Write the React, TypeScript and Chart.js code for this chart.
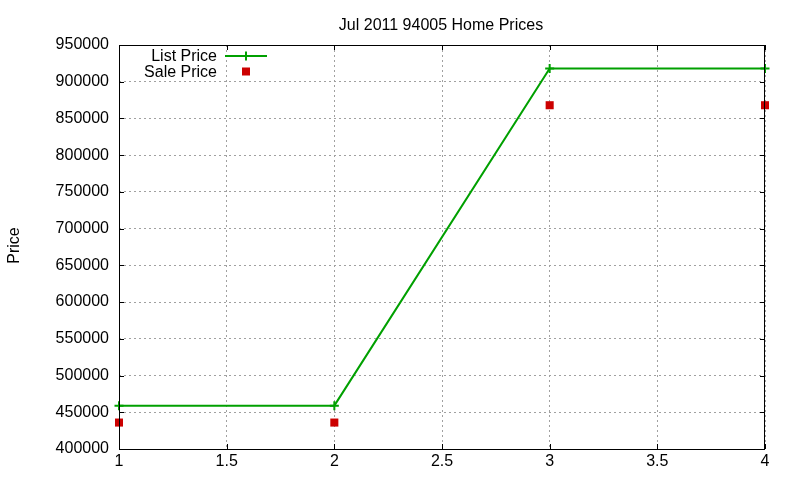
import React, { useEffect, useRef } from 'react';
import { Chart, registerables, type Plugin } from 'chart.js';

Chart.register(...registerables);

const xValues = [1, 2, 3, 4];
const listPrice = [459000, 459000, 918000, 918000];
const salePrice = [436000, 436000, 868000, 868000];

const xTicks = [1, 1.5, 2, 2.5, 3, 3.5, 4];
const yTicks = [400000, 450000, 500000, 550000, 600000, 650000, 700000, 750000, 800000, 850000, 900000, 950000];

const chartTitle = 'Jul 2011 94005 Home Prices';
const yLabel = 'Price';
const seriesNames = ['List Price', 'Sale Price'];

const FONT = "'Liberation Sans', Arial, sans-serif";
const GREEN = '#00a000';
const RED = '#cc0000';

// gnuplot-style frame: border box, inward ticks, title, ylabel and key
const framePlugin: Plugin<'line'> = {
  id: 'gnuplotFrame',
  afterDatasetsDraw(chart) {
    const { ctx, chartArea } = chart;
    const { left, right, top, bottom } = chartArea;
    const xs = chart.scales.x;
    const ys = chart.scales.y;
    const tick = 5;

    ctx.save();
    ctx.strokeStyle = '#000';
    ctx.lineWidth = 1;
    ctx.beginPath();
    ctx.rect(left + 0.5, top + 0.5, right - left - 1, bottom - top);
    for (const v of xTicks) {
      const px = Math.round(xs.getPixelForValue(v)) + 0.5;
      ctx.moveTo(px, bottom);
      ctx.lineTo(px, bottom - tick);
      ctx.moveTo(px, top);
      ctx.lineTo(px, top + tick);
    }
    for (const v of yTicks) {
      const py = Math.round(ys.getPixelForValue(v)) + 0.5;
      ctx.moveTo(left, py);
      ctx.lineTo(left + tick, py);
      ctx.moveTo(right, py);
      ctx.lineTo(right - tick, py);
    }
    ctx.stroke();

    ctx.fillStyle = '#000';
    ctx.font = `16px ${FONT}`;
    ctx.textBaseline = 'alphabetic';
    ctx.textAlign = 'center';
    ctx.fillText(chartTitle, (left + right) / 2 - 1, 30);

    ctx.save();
    ctx.translate(18.5, 245.5);
    ctx.rotate(-Math.PI / 2);
    ctx.fillText(yLabel, 0, 0);
    ctx.restore();

    // key
    ctx.textAlign = 'right';
    ctx.fillText(seriesNames[0], 217, 61);
    ctx.fillText(seriesNames[1], 217, 76.5);

    ctx.strokeStyle = GREEN;
    ctx.lineWidth = 2;
    ctx.beginPath();
    ctx.moveTo(225, 56);
    ctx.lineTo(267, 56);
    ctx.moveTo(246, 51.5);
    ctx.lineTo(246, 60.5);
    ctx.stroke();

    ctx.fillStyle = RED;
    ctx.fillRect(242, 67.5, 8, 8);
    ctx.restore();
  },
};

export default function App() {
  const chartRef = useRef<HTMLCanvasElement>(null);
  const chartInstance = useRef<Chart<'line'> | null>(null);

  useEffect(() => {
    document.body.style.margin = '0';
    if (!chartRef.current) return;
    if (chartInstance.current) chartInstance.current.destroy();

    const ctx = chartRef.current.getContext('2d');
    if (!ctx) return;

    chartInstance.current = new Chart(ctx, {
      type: 'line',
      data: {
        datasets: [
          {
            label: seriesNames[0],
            data: xValues.map((x, i) => ({ x, y: listPrice[i] })),
            borderColor: GREEN,
            backgroundColor: GREEN,
            borderWidth: 2,
            pointStyle: 'cross',
            pointRadius: 4.5,
            pointBorderWidth: 2,
            pointBorderColor: GREEN,
            tension: 0,
            clip: false,
          },
          {
            label: seriesNames[1],
            data: xValues.map((x, i) => ({ x, y: salePrice[i] })),
            showLine: false,
            borderColor: RED,
            backgroundColor: RED,
            pointStyle: 'rect',
            pointRadius: 5.7,
            pointBorderWidth: 0,
            pointBackgroundColor: RED,
            clip: false,
          },
        ],
      },
      options: {
        responsive: false,
        animation: false,
        layout: { padding: { left: 0, right: 35, top: 45, bottom: 0 } },
        plugins: {
          legend: { display: false },
          title: { display: false },
          tooltip: { enabled: false },
        },
        scales: {
          x: {
            type: 'linear',
            min: 1,
            max: 4,
            afterFit: (scale) => {
              scale.height = 31;
            },
            afterBuildTicks: (scale) => {
              scale.ticks = xTicks.map((v) => ({ value: v }));
            },
            ticks: {
              color: '#000',
              font: { family: FONT, size: 16 },
              padding: 3,
              maxRotation: 0,
              autoSkip: false,
              callback: (v) => String(v),
            },
            grid: { color: '#a0a0a0', drawTicks: false, lineWidth: 1 },
            border: { display: false, dash: [2, 3] },
          },
          y: {
            type: 'linear',
            min: 400000,
            max: 950000,
            afterFit: (scale) => {
              scale.width = 119;
            },
            afterBuildTicks: (scale) => {
              scale.ticks = yTicks.map((v) => ({ value: v }));
            },
            ticks: {
              color: '#000',
              font: { family: FONT, size: 16 },
              padding: 10,
              autoSkip: false,
              callback: (v) => String(v),
            },
            grid: { color: '#a0a0a0', drawTicks: false, lineWidth: 1 },
            border: { display: false, dash: [2, 3] },
          },
        },
      },
      plugins: [framePlugin],
    });

    return () => {
      if (chartInstance.current) {
        chartInstance.current.destroy();
        chartInstance.current = null;
      }
    };
  }, []);

  return (
    <div style={{ width: 800, height: 480, background: '#fff' }}>
      <canvas ref={chartRef} width={800} height={480}></canvas>
    </div>
  );
}
